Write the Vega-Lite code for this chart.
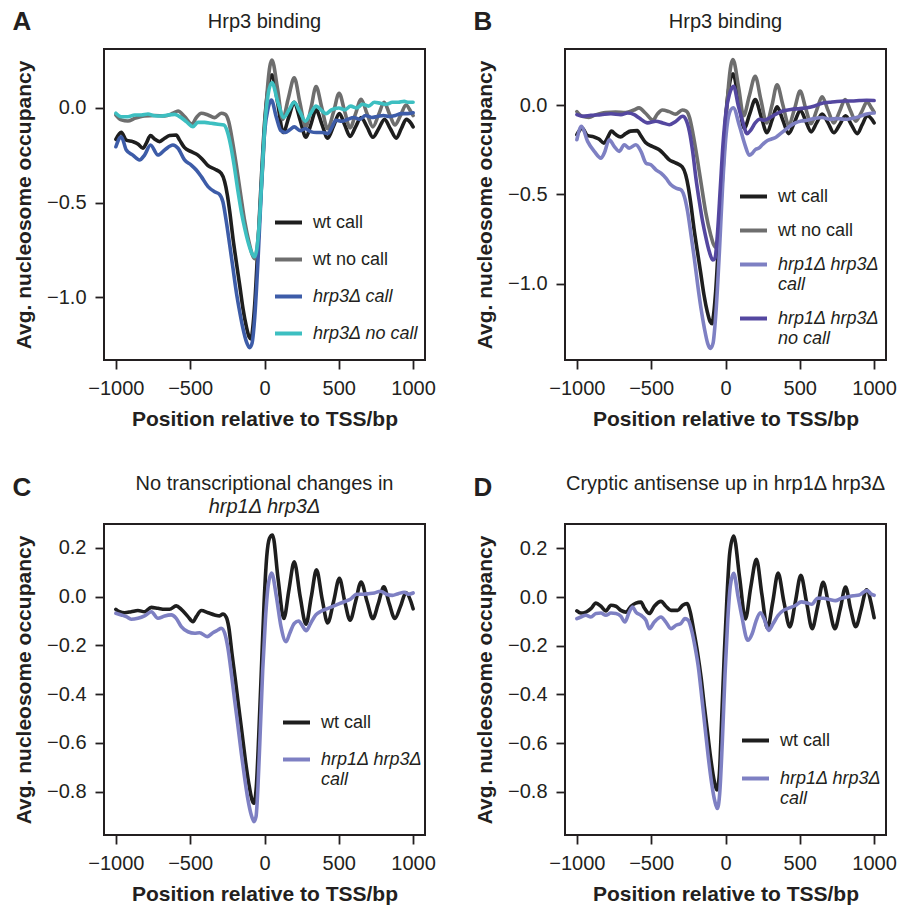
{
"$schema": "https://vega.github.io/schema/vega-lite/v6.json",
"background": "white",
"padding": {"left": 12, "top": 9, "right": 5, "bottom": 0},
"config": {
  "font": "Liberation Sans",
  "view": {"stroke": "#231f20", "strokeWidth": 2},
  "axis": {"domain": false, "grid": false, "tickColor": "#231f20", "tickWidth": 1.8, "tickSize": 9, "labelFont": "Liberation Sans", "labelFontSize": 20, "labelColor": "#231f20", "labelPadding": 9, "labelFlush": false, "labelOverlap": false, "titleFont": "Liberation Sans", "titleFontSize": 21, "titleFontWeight": "bold", "titleColor": "#231f20"},
  "axisX": {"titlePadding": 10},
  "axisY": {"titlePadding": 12},
  "title": {"font": "Liberation Sans", "fontSize": 20, "fontWeight": "normal", "color": "#231f20", "subtitleFont": "Liberation Sans", "subtitleFontSize": 20, "subtitleColor": "#231f20"},
  "legend": {"labelFont": "Liberation Sans", "labelFontSize": 18, "labelColor": "#231f20", "symbolType": "stroke", "symbolSize": 729, "symbolStrokeWidth": 4, "labelOffset": 9, "padding": 0, "rowPadding": 12}
},
"resolve": {"scale": {"color": "independent"}, "legend": {"color": "independent"}},
"datasets": {"nuc": [
{"g":"AB","s":"wt call","x":-1000,"y":-0.166},{"g":"AB","s":"wt call","x":-964,"y":-0.129},{"g":"AB","s":"wt call","x":-930,"y":-0.17},{"g":"AB","s":"wt call","x":-886,"y":-0.178},{"g":"AB","s":"wt call","x":-852,"y":-0.19},{"g":"AB","s":"wt call","x":-818,"y":-0.213},{"g":"AB","s":"wt call","x":-796,"y":-0.187},{"g":"AB","s":"wt call","x":-767,"y":-0.146},{"g":"AB","s":"wt call","x":-740,"y":-0.164},{"g":"AB","s":"wt call","x":-706,"y":-0.178},{"g":"AB","s":"wt call","x":-672,"y":-0.16},{"g":"AB","s":"wt call","x":-639,"y":-0.146},{"g":"AB","s":"wt call","x":-594,"y":-0.143},{"g":"AB","s":"wt call","x":-571,"y":-0.17},{"g":"AB","s":"wt call","x":-538,"y":-0.21},{"g":"AB","s":"wt call","x":-493,"y":-0.231},{"g":"AB","s":"wt call","x":-448,"y":-0.249},{"g":"AB","s":"wt call","x":-414,"y":-0.275},{"g":"AB","s":"wt call","x":-380,"y":-0.305},{"g":"AB","s":"wt call","x":-336,"y":-0.323},{"g":"AB","s":"wt call","x":-291,"y":-0.346},{"g":"AB","s":"wt call","x":-268,"y":-0.39},{"g":"AB","s":"wt call","x":-250,"y":-0.46},{"g":"AB","s":"wt call","x":-234,"y":-0.548},{"g":"AB","s":"wt call","x":-212,"y":-0.69},{"g":"AB","s":"wt call","x":-190,"y":-0.813},{"g":"AB","s":"wt call","x":-167,"y":-0.937},{"g":"AB","s":"wt call","x":-145,"y":-1.06},{"g":"AB","s":"wt call","x":-122,"y":-1.157},{"g":"AB","s":"wt call","x":-104,"y":-1.21},{"g":"AB","s":"wt call","x":-90,"y":-1.222},{"g":"AB","s":"wt call","x":-80,"y":-1.17},{"g":"AB","s":"wt call","x":-66,"y":-1.04},{"g":"AB","s":"wt call","x":-44,"y":-0.725},{"g":"AB","s":"wt call","x":-21,"y":-0.372},{"g":"AB","s":"wt call","x":1,"y":-0.072},{"g":"AB","s":"wt call","x":24,"y":0.104},{"g":"AB","s":"wt call","x":50,"y":0.175},{"g":"AB","s":"wt call","x":88,"y":0.03},{"g":"AB","s":"wt call","x":126,"y":-0.13},{"g":"AB","s":"wt call","x":163,"y":-0.05},{"g":"AB","s":"wt call","x":200,"y":0.03},{"g":"AB","s":"wt call","x":240,"y":-0.065},{"g":"AB","s":"wt call","x":279,"y":-0.155},{"g":"AB","s":"wt call","x":313,"y":-0.085},{"g":"AB","s":"wt call","x":347,"y":-0.01},{"g":"AB","s":"wt call","x":386,"y":-0.085},{"g":"AB","s":"wt call","x":425,"y":-0.16},{"g":"AB","s":"wt call","x":465,"y":-0.095},{"g":"AB","s":"wt call","x":504,"y":-0.03},{"g":"AB","s":"wt call","x":540,"y":-0.09},{"g":"AB","s":"wt call","x":576,"y":-0.15},{"g":"AB","s":"wt call","x":613,"y":-0.1},{"g":"AB","s":"wt call","x":650,"y":-0.05},{"g":"AB","s":"wt call","x":690,"y":-0.1},{"g":"AB","s":"wt call","x":729,"y":-0.155},{"g":"AB","s":"wt call","x":768,"y":-0.11},{"g":"AB","s":"wt call","x":808,"y":-0.06},{"g":"AB","s":"wt call","x":847,"y":-0.11},{"g":"AB","s":"wt call","x":887,"y":-0.16},{"g":"AB","s":"wt call","x":920,"y":-0.11},{"g":"AB","s":"wt call","x":954,"y":-0.06},{"g":"AB","s":"wt call","x":985,"y":-0.08},{"g":"AB","s":"wt call","x":1000,"y":-0.1},
{"g":"AB","s":"wt no call","x":-1000,"y":-0.037},{"g":"AB","s":"wt no call","x":-964,"y":-0.063},{"g":"AB","s":"wt no call","x":-919,"y":-0.069},{"g":"AB","s":"wt no call","x":-874,"y":-0.055},{"g":"AB","s":"wt no call","x":-807,"y":-0.042},{"g":"AB","s":"wt no call","x":-740,"y":-0.04},{"g":"AB","s":"wt no call","x":-672,"y":-0.042},{"g":"AB","s":"wt no call","x":-616,"y":-0.028},{"g":"AB","s":"wt no call","x":-582,"y":-0.016},{"g":"AB","s":"wt no call","x":-538,"y":-0.046},{"g":"AB","s":"wt no call","x":-488,"y":-0.085},{"g":"AB","s":"wt no call","x":-459,"y":-0.051},{"g":"AB","s":"wt no call","x":-425,"y":-0.028},{"g":"AB","s":"wt no call","x":-380,"y":-0.037},{"g":"AB","s":"wt no call","x":-336,"y":-0.051},{"g":"AB","s":"wt no call","x":-291,"y":-0.028},{"g":"AB","s":"wt no call","x":-264,"y":-0.034},{"g":"AB","s":"wt no call","x":-241,"y":-0.072},{"g":"AB","s":"wt no call","x":-219,"y":-0.16},{"g":"AB","s":"wt no call","x":-190,"y":-0.3},{"g":"AB","s":"wt no call","x":-160,"y":-0.46},{"g":"AB","s":"wt no call","x":-133,"y":-0.6},{"g":"AB","s":"wt no call","x":-100,"y":-0.725},{"g":"AB","s":"wt no call","x":-80,"y":-0.78},{"g":"AB","s":"wt no call","x":-64,"y":-0.797},{"g":"AB","s":"wt no call","x":-50,"y":-0.74},{"g":"AB","s":"wt no call","x":-39,"y":-0.65},{"g":"AB","s":"wt no call","x":-28,"y":-0.51},{"g":"AB","s":"wt no call","x":-17,"y":-0.37},{"g":"AB","s":"wt no call","x":-8,"y":-0.25},{"g":"AB","s":"wt no call","x":1,"y":-0.11},{"g":"AB","s":"wt no call","x":12,"y":0.02},{"g":"AB","s":"wt no call","x":24,"y":0.14},{"g":"AB","s":"wt no call","x":36,"y":0.22},{"g":"AB","s":"wt no call","x":50,"y":0.254},{"g":"AB","s":"wt no call","x":88,"y":0.1},{"g":"AB","s":"wt no call","x":122,"y":-0.06},{"g":"AB","s":"wt no call","x":160,"y":0.05},{"g":"AB","s":"wt no call","x":200,"y":0.16},{"g":"AB","s":"wt no call","x":238,"y":0.03},{"g":"AB","s":"wt no call","x":277,"y":-0.1},{"g":"AB","s":"wt no call","x":313,"y":0.0},{"g":"AB","s":"wt no call","x":347,"y":0.113},{"g":"AB","s":"wt no call","x":386,"y":0.0},{"g":"AB","s":"wt no call","x":425,"y":-0.11},{"g":"AB","s":"wt no call","x":465,"y":-0.02},{"g":"AB","s":"wt no call","x":502,"y":0.078},{"g":"AB","s":"wt no call","x":540,"y":-0.02},{"g":"AB","s":"wt no call","x":576,"y":-0.105},{"g":"AB","s":"wt no call","x":613,"y":-0.03},{"g":"AB","s":"wt no call","x":650,"y":0.046},{"g":"AB","s":"wt no call","x":690,"y":-0.03},{"g":"AB","s":"wt no call","x":729,"y":-0.1},{"g":"AB","s":"wt no call","x":768,"y":-0.035},{"g":"AB","s":"wt no call","x":805,"y":0.03},{"g":"AB","s":"wt no call","x":840,"y":-0.03},{"g":"AB","s":"wt no call","x":877,"y":-0.09},{"g":"AB","s":"wt no call","x":915,"y":-0.04},{"g":"AB","s":"wt no call","x":952,"y":0.016},{"g":"AB","s":"wt no call","x":985,"y":-0.02},{"g":"AB","s":"wt no call","x":1000,"y":-0.04},
{"g":"A","s":"hrp3Δ call","x":-1000,"y":-0.205},{"g":"A","s":"hrp3Δ call","x":-964,"y":-0.152},{"g":"A","s":"hrp3Δ call","x":-930,"y":-0.222},{"g":"A","s":"hrp3Δ call","x":-886,"y":-0.249},{"g":"A","s":"hrp3Δ call","x":-841,"y":-0.275},{"g":"A","s":"hrp3Δ call","x":-807,"y":-0.249},{"g":"A","s":"hrp3Δ call","x":-767,"y":-0.196},{"g":"A","s":"hrp3Δ call","x":-717,"y":-0.249},{"g":"A","s":"hrp3Δ call","x":-672,"y":-0.222},{"g":"A","s":"hrp3Δ call","x":-616,"y":-0.196},{"g":"A","s":"hrp3Δ call","x":-582,"y":-0.213},{"g":"A","s":"hrp3Δ call","x":-538,"y":-0.275},{"g":"A","s":"hrp3Δ call","x":-493,"y":-0.302},{"g":"A","s":"hrp3Δ call","x":-459,"y":-0.328},{"g":"A","s":"hrp3Δ call","x":-425,"y":-0.363},{"g":"A","s":"hrp3Δ call","x":-380,"y":-0.416},{"g":"A","s":"hrp3Δ call","x":-336,"y":-0.443},{"g":"A","s":"hrp3Δ call","x":-302,"y":-0.457},{"g":"A","s":"hrp3Δ call","x":-280,"y":-0.496},{"g":"A","s":"hrp3Δ call","x":-257,"y":-0.6},{"g":"A","s":"hrp3Δ call","x":-234,"y":-0.725},{"g":"A","s":"hrp3Δ call","x":-212,"y":-0.848},{"g":"A","s":"hrp3Δ call","x":-190,"y":-0.972},{"g":"A","s":"hrp3Δ call","x":-167,"y":-1.078},{"g":"A","s":"hrp3Δ call","x":-145,"y":-1.166},{"g":"A","s":"hrp3Δ call","x":-122,"y":-1.236},{"g":"A","s":"hrp3Δ call","x":-100,"y":-1.268},{"g":"A","s":"hrp3Δ call","x":-84,"y":-1.245},{"g":"A","s":"hrp3Δ call","x":-66,"y":-1.11},{"g":"A","s":"hrp3Δ call","x":-44,"y":-0.81},{"g":"A","s":"hrp3Δ call","x":-21,"y":-0.425},{"g":"A","s":"hrp3Δ call","x":1,"y":-0.125},{"g":"A","s":"hrp3Δ call","x":24,"y":-0.002},{"g":"A","s":"hrp3Δ call","x":46,"y":0.042},{"g":"A","s":"hrp3Δ call","x":80,"y":-0.05},{"g":"A","s":"hrp3Δ call","x":110,"y":-0.12},{"g":"A","s":"hrp3Δ call","x":140,"y":-0.13},{"g":"A","s":"hrp3Δ call","x":170,"y":-0.115},{"g":"A","s":"hrp3Δ call","x":200,"y":-0.1},{"g":"A","s":"hrp3Δ call","x":240,"y":-0.12},{"g":"A","s":"hrp3Δ call","x":275,"y":-0.11},{"g":"A","s":"hrp3Δ call","x":310,"y":-0.125},{"g":"A","s":"hrp3Δ call","x":350,"y":-0.13},{"g":"A","s":"hrp3Δ call","x":390,"y":-0.13},{"g":"A","s":"hrp3Δ call","x":425,"y":-0.135},{"g":"A","s":"hrp3Δ call","x":455,"y":-0.1},{"g":"A","s":"hrp3Δ call","x":480,"y":-0.065},{"g":"A","s":"hrp3Δ call","x":520,"y":-0.07},{"g":"A","s":"hrp3Δ call","x":560,"y":-0.06},{"g":"A","s":"hrp3Δ call","x":600,"y":-0.05},{"g":"A","s":"hrp3Δ call","x":640,"y":-0.06},{"g":"A","s":"hrp3Δ call","x":680,"y":-0.04},{"g":"A","s":"hrp3Δ call","x":720,"y":-0.05},{"g":"A","s":"hrp3Δ call","x":760,"y":-0.045},{"g":"A","s":"hrp3Δ call","x":800,"y":-0.04},{"g":"A","s":"hrp3Δ call","x":840,"y":-0.045},{"g":"A","s":"hrp3Δ call","x":880,"y":-0.04},{"g":"A","s":"hrp3Δ call","x":920,"y":-0.03},{"g":"A","s":"hrp3Δ call","x":960,"y":-0.03},{"g":"A","s":"hrp3Δ call","x":1000,"y":-0.025},
{"g":"A","s":"hrp3Δ no call","x":-1000,"y":-0.028},{"g":"A","s":"hrp3Δ no call","x":-964,"y":-0.046},{"g":"A","s":"hrp3Δ no call","x":-919,"y":-0.046},{"g":"A","s":"hrp3Δ no call","x":-874,"y":-0.037},{"g":"A","s":"hrp3Δ no call","x":-829,"y":-0.037},{"g":"A","s":"hrp3Δ no call","x":-784,"y":-0.032},{"g":"A","s":"hrp3Δ no call","x":-740,"y":-0.041},{"g":"A","s":"hrp3Δ no call","x":-695,"y":-0.042},{"g":"A","s":"hrp3Δ no call","x":-650,"y":-0.037},{"g":"A","s":"hrp3Δ no call","x":-605,"y":-0.034},{"g":"A","s":"hrp3Δ no call","x":-571,"y":-0.046},{"g":"A","s":"hrp3Δ no call","x":-526,"y":-0.072},{"g":"A","s":"hrp3Δ no call","x":-481,"y":-0.099},{"g":"A","s":"hrp3Δ no call","x":-448,"y":-0.076},{"g":"A","s":"hrp3Δ no call","x":-403,"y":-0.076},{"g":"A","s":"hrp3Δ no call","x":-358,"y":-0.081},{"g":"A","s":"hrp3Δ no call","x":-313,"y":-0.086},{"g":"A","s":"hrp3Δ no call","x":-273,"y":-0.09},{"g":"A","s":"hrp3Δ no call","x":-250,"y":-0.125},{"g":"A","s":"hrp3Δ no call","x":-228,"y":-0.196},{"g":"A","s":"hrp3Δ no call","x":-205,"y":-0.3},{"g":"A","s":"hrp3Δ no call","x":-178,"y":-0.443},{"g":"A","s":"hrp3Δ no call","x":-156,"y":-0.548},{"g":"A","s":"hrp3Δ no call","x":-133,"y":-0.637},{"g":"A","s":"hrp3Δ no call","x":-111,"y":-0.707},{"g":"A","s":"hrp3Δ no call","x":-84,"y":-0.77},{"g":"A","s":"hrp3Δ no call","x":-66,"y":-0.787},{"g":"A","s":"hrp3Δ no call","x":-48,"y":-0.725},{"g":"A","s":"hrp3Δ no call","x":-30,"y":-0.548},{"g":"A","s":"hrp3Δ no call","x":-12,"y":-0.28},{"g":"A","s":"hrp3Δ no call","x":6,"y":-0.055},{"g":"A","s":"hrp3Δ no call","x":24,"y":0.069},{"g":"A","s":"hrp3Δ no call","x":50,"y":0.135},{"g":"A","s":"hrp3Δ no call","x":90,"y":0.03},{"g":"A","s":"hrp3Δ no call","x":130,"y":-0.05},{"g":"A","s":"hrp3Δ no call","x":165,"y":-0.01},{"g":"A","s":"hrp3Δ no call","x":200,"y":0.03},{"g":"A","s":"hrp3Δ no call","x":238,"y":-0.02},{"g":"A","s":"hrp3Δ no call","x":275,"y":-0.07},{"g":"A","s":"hrp3Δ no call","x":310,"y":-0.03},{"g":"A","s":"hrp3Δ no call","x":347,"y":0.01},{"g":"A","s":"hrp3Δ no call","x":380,"y":-0.01},{"g":"A","s":"hrp3Δ no call","x":414,"y":-0.03},{"g":"A","s":"hrp3Δ no call","x":450,"y":-0.01},{"g":"A","s":"hrp3Δ no call","x":500,"y":0.0},{"g":"A","s":"hrp3Δ no call","x":540,"y":-0.01},{"g":"A","s":"hrp3Δ no call","x":580,"y":0.01},{"g":"A","s":"hrp3Δ no call","x":620,"y":0.0},{"g":"A","s":"hrp3Δ no call","x":660,"y":0.02},{"g":"A","s":"hrp3Δ no call","x":700,"y":0.01},{"g":"A","s":"hrp3Δ no call","x":740,"y":0.03},{"g":"A","s":"hrp3Δ no call","x":780,"y":0.025},{"g":"A","s":"hrp3Δ no call","x":820,"y":0.02},{"g":"A","s":"hrp3Δ no call","x":860,"y":0.03},{"g":"A","s":"hrp3Δ no call","x":900,"y":0.03},{"g":"A","s":"hrp3Δ no call","x":940,"y":0.035},{"g":"A","s":"hrp3Δ no call","x":970,"y":0.03},{"g":"A","s":"hrp3Δ no call","x":1000,"y":0.03},
{"g":"B","s":"hrp1Δ hrp3Δ call","x":-1000,"y":-0.194},{"g":"B","s":"hrp1Δ hrp3Δ call","x":-969,"y":-0.119},{"g":"B","s":"hrp1Δ hrp3Δ call","x":-928,"y":-0.203},{"g":"B","s":"hrp1Δ hrp3Δ call","x":-883,"y":-0.259},{"g":"B","s":"hrp1Δ hrp3Δ call","x":-838,"y":-0.297},{"g":"B","s":"hrp1Δ hrp3Δ call","x":-816,"y":-0.269},{"g":"B","s":"hrp1Δ hrp3Δ call","x":-782,"y":-0.194},{"g":"B","s":"hrp1Δ hrp3Δ call","x":-749,"y":-0.231},{"g":"B","s":"hrp1Δ hrp3Δ call","x":-715,"y":-0.259},{"g":"B","s":"hrp1Δ hrp3Δ call","x":-681,"y":-0.222},{"g":"B","s":"hrp1Δ hrp3Δ call","x":-648,"y":-0.241},{"g":"B","s":"hrp1Δ hrp3Δ call","x":-603,"y":-0.222},{"g":"B","s":"hrp1Δ hrp3Δ call","x":-569,"y":-0.259},{"g":"B","s":"hrp1Δ hrp3Δ call","x":-535,"y":-0.325},{"g":"B","s":"hrp1Δ hrp3Δ call","x":-502,"y":-0.334},{"g":"B","s":"hrp1Δ hrp3Δ call","x":-468,"y":-0.362},{"g":"B","s":"hrp1Δ hrp3Δ call","x":-434,"y":-0.381},{"g":"B","s":"hrp1Δ hrp3Δ call","x":-401,"y":-0.409},{"g":"B","s":"hrp1Δ hrp3Δ call","x":-367,"y":-0.446},{"g":"B","s":"hrp1Δ hrp3Δ call","x":-333,"y":-0.465},{"g":"B","s":"hrp1Δ hrp3Δ call","x":-300,"y":-0.474},{"g":"B","s":"hrp1Δ hrp3Δ call","x":-277,"y":-0.511},{"g":"B","s":"hrp1Δ hrp3Δ call","x":-255,"y":-0.595},{"g":"B","s":"hrp1Δ hrp3Δ call","x":-232,"y":-0.726},{"g":"B","s":"hrp1Δ hrp3Δ call","x":-210,"y":-0.856},{"g":"B","s":"hrp1Δ hrp3Δ call","x":-187,"y":-1.006},{"g":"B","s":"hrp1Δ hrp3Δ call","x":-165,"y":-1.136},{"g":"B","s":"hrp1Δ hrp3Δ call","x":-142,"y":-1.248},{"g":"B","s":"hrp1Δ hrp3Δ call","x":-120,"y":-1.332},{"g":"B","s":"hrp1Δ hrp3Δ call","x":-102,"y":-1.36},{"g":"B","s":"hrp1Δ hrp3Δ call","x":-84,"y":-1.332},{"g":"B","s":"hrp1Δ hrp3Δ call","x":-64,"y":-1.155},{"g":"B","s":"hrp1Δ hrp3Δ call","x":-41,"y":-0.819},{"g":"B","s":"hrp1Δ hrp3Δ call","x":-19,"y":-0.446},{"g":"B","s":"hrp1Δ hrp3Δ call","x":4,"y":-0.166},{"g":"B","s":"hrp1Δ hrp3Δ call","x":26,"y":-0.045},{"g":"B","s":"hrp1Δ hrp3Δ call","x":52,"y":-0.015},{"g":"B","s":"hrp1Δ hrp3Δ call","x":95,"y":-0.12},{"g":"B","s":"hrp1Δ hrp3Δ call","x":130,"y":-0.22},{"g":"B","s":"hrp1Δ hrp3Δ call","x":160,"y":-0.28},{"g":"B","s":"hrp1Δ hrp3Δ call","x":180,"y":-0.27},{"g":"B","s":"hrp1Δ hrp3Δ call","x":200,"y":-0.25},{"g":"B","s":"hrp1Δ hrp3Δ call","x":225,"y":-0.24},{"g":"B","s":"hrp1Δ hrp3Δ call","x":250,"y":-0.22},{"g":"B","s":"hrp1Δ hrp3Δ call","x":280,"y":-0.2},{"g":"B","s":"hrp1Δ hrp3Δ call","x":310,"y":-0.19},{"g":"B","s":"hrp1Δ hrp3Δ call","x":340,"y":-0.18},{"g":"B","s":"hrp1Δ hrp3Δ call","x":370,"y":-0.16},{"g":"B","s":"hrp1Δ hrp3Δ call","x":400,"y":-0.14},{"g":"B","s":"hrp1Δ hrp3Δ call","x":430,"y":-0.12},{"g":"B","s":"hrp1Δ hrp3Δ call","x":470,"y":-0.1},{"g":"B","s":"hrp1Δ hrp3Δ call","x":510,"y":-0.09},{"g":"B","s":"hrp1Δ hrp3Δ call","x":550,"y":-0.085},{"g":"B","s":"hrp1Δ hrp3Δ call","x":600,"y":-0.075},{"g":"B","s":"hrp1Δ hrp3Δ call","x":650,"y":-0.07},{"g":"B","s":"hrp1Δ hrp3Δ call","x":700,"y":-0.08},{"g":"B","s":"hrp1Δ hrp3Δ call","x":750,"y":-0.075},{"g":"B","s":"hrp1Δ hrp3Δ call","x":800,"y":-0.08},{"g":"B","s":"hrp1Δ hrp3Δ call","x":850,"y":-0.075},{"g":"B","s":"hrp1Δ hrp3Δ call","x":900,"y":-0.065},{"g":"B","s":"hrp1Δ hrp3Δ call","x":950,"y":-0.05},{"g":"B","s":"hrp1Δ hrp3Δ call","x":1000,"y":-0.045},
{"g":"B","s":"hrp1Δ hrp3Δ no call","x":-1000,"y":-0.054},{"g":"B","s":"hrp1Δ hrp3Δ no call","x":-962,"y":-0.063},{"g":"B","s":"hrp1Δ hrp3Δ no call","x":-906,"y":-0.058},{"g":"B","s":"hrp1Δ hrp3Δ no call","x":-838,"y":-0.054},{"g":"B","s":"hrp1Δ hrp3Δ no call","x":-771,"y":-0.049},{"g":"B","s":"hrp1Δ hrp3Δ no call","x":-704,"y":-0.054},{"g":"B","s":"hrp1Δ hrp3Δ no call","x":-659,"y":-0.045},{"g":"B","s":"hrp1Δ hrp3Δ no call","x":-614,"y":-0.054},{"g":"B","s":"hrp1Δ hrp3Δ no call","x":-580,"y":-0.073},{"g":"B","s":"hrp1Δ hrp3Δ no call","x":-524,"y":-0.1},{"g":"B","s":"hrp1Δ hrp3Δ no call","x":-468,"y":-0.091},{"g":"B","s":"hrp1Δ hrp3Δ no call","x":-423,"y":-0.1},{"g":"B","s":"hrp1Δ hrp3Δ no call","x":-378,"y":-0.11},{"g":"B","s":"hrp1Δ hrp3Δ no call","x":-333,"y":-0.091},{"g":"B","s":"hrp1Δ hrp3Δ no call","x":-288,"y":-0.063},{"g":"B","s":"hrp1Δ hrp3Δ no call","x":-266,"y":-0.082},{"g":"B","s":"hrp1Δ hrp3Δ no call","x":-243,"y":-0.147},{"g":"B","s":"hrp1Δ hrp3Δ no call","x":-221,"y":-0.259},{"g":"B","s":"hrp1Δ hrp3Δ no call","x":-199,"y":-0.409},{"g":"B","s":"hrp1Δ hrp3Δ no call","x":-176,"y":-0.539},{"g":"B","s":"hrp1Δ hrp3Δ no call","x":-154,"y":-0.651},{"g":"B","s":"hrp1Δ hrp3Δ no call","x":-131,"y":-0.744},{"g":"B","s":"hrp1Δ hrp3Δ no call","x":-109,"y":-0.819},{"g":"B","s":"hrp1Δ hrp3Δ no call","x":-86,"y":-0.866},{"g":"B","s":"hrp1Δ hrp3Δ no call","x":-71,"y":-0.856},{"g":"B","s":"hrp1Δ hrp3Δ no call","x":-53,"y":-0.707},{"g":"B","s":"hrp1Δ hrp3Δ no call","x":-35,"y":-0.465},{"g":"B","s":"hrp1Δ hrp3Δ no call","x":-17,"y":-0.222},{"g":"B","s":"hrp1Δ hrp3Δ no call","x":4,"y":-0.035},{"g":"B","s":"hrp1Δ hrp3Δ no call","x":26,"y":0.058},{"g":"B","s":"hrp1Δ hrp3Δ no call","x":55,"y":0.105},{"g":"B","s":"hrp1Δ hrp3Δ no call","x":85,"y":0.0},{"g":"B","s":"hrp1Δ hrp3Δ no call","x":115,"y":-0.09},{"g":"B","s":"hrp1Δ hrp3Δ no call","x":145,"y":-0.16},{"g":"B","s":"hrp1Δ hrp3Δ no call","x":170,"y":-0.14},{"g":"B","s":"hrp1Δ hrp3Δ no call","x":200,"y":-0.1},{"g":"B","s":"hrp1Δ hrp3Δ no call","x":230,"y":-0.08},{"g":"B","s":"hrp1Δ hrp3Δ no call","x":260,"y":-0.085},{"g":"B","s":"hrp1Δ hrp3Δ no call","x":290,"y":-0.075},{"g":"B","s":"hrp1Δ hrp3Δ no call","x":330,"y":-0.055},{"g":"B","s":"hrp1Δ hrp3Δ no call","x":380,"y":-0.035},{"g":"B","s":"hrp1Δ hrp3Δ no call","x":440,"y":-0.025},{"g":"B","s":"hrp1Δ hrp3Δ no call","x":500,"y":-0.02},{"g":"B","s":"hrp1Δ hrp3Δ no call","x":550,"y":-0.015},{"g":"B","s":"hrp1Δ hrp3Δ no call","x":600,"y":-0.005},{"g":"B","s":"hrp1Δ hrp3Δ no call","x":650,"y":0.01},{"g":"B","s":"hrp1Δ hrp3Δ no call","x":700,"y":0.015},{"g":"B","s":"hrp1Δ hrp3Δ no call","x":750,"y":0.02},{"g":"B","s":"hrp1Δ hrp3Δ no call","x":800,"y":0.022},{"g":"B","s":"hrp1Δ hrp3Δ no call","x":850,"y":0.022},{"g":"B","s":"hrp1Δ hrp3Δ no call","x":900,"y":0.025},{"g":"B","s":"hrp1Δ hrp3Δ no call","x":950,"y":0.027},{"g":"B","s":"hrp1Δ hrp3Δ no call","x":1000,"y":0.025},
{"g":"C","s":"wt call","x":-1000,"y":-0.052},{"g":"C","s":"wt call","x":-975,"y":-0.062},{"g":"C","s":"wt call","x":-942,"y":-0.066},{"g":"C","s":"wt call","x":-897,"y":-0.062},{"g":"C","s":"wt call","x":-852,"y":-0.057},{"g":"C","s":"wt call","x":-807,"y":-0.062},{"g":"C","s":"wt call","x":-762,"y":-0.044},{"g":"C","s":"wt call","x":-717,"y":-0.048},{"g":"C","s":"wt call","x":-672,"y":-0.052},{"g":"C","s":"wt call","x":-639,"y":-0.052},{"g":"C","s":"wt call","x":-594,"y":-0.038},{"g":"C","s":"wt call","x":-560,"y":-0.052},{"g":"C","s":"wt call","x":-515,"y":-0.082},{"g":"C","s":"wt call","x":-481,"y":-0.103},{"g":"C","s":"wt call","x":-459,"y":-0.082},{"g":"C","s":"wt call","x":-425,"y":-0.057},{"g":"C","s":"wt call","x":-380,"y":-0.066},{"g":"C","s":"wt call","x":-336,"y":-0.075},{"g":"C","s":"wt call","x":-302,"y":-0.079},{"g":"C","s":"wt call","x":-280,"y":-0.071},{"g":"C","s":"wt call","x":-257,"y":-0.085},{"g":"C","s":"wt call","x":-241,"y":-0.123},{"g":"C","s":"wt call","x":-219,"y":-0.233},{"g":"C","s":"wt call","x":-196,"y":-0.342},{"g":"C","s":"wt call","x":-174,"y":-0.451},{"g":"C","s":"wt call","x":-151,"y":-0.561},{"g":"C","s":"wt call","x":-129,"y":-0.67},{"g":"C","s":"wt call","x":-106,"y":-0.766},{"g":"C","s":"wt call","x":-84,"y":-0.834},{"g":"C","s":"wt call","x":-71,"y":-0.848},{"g":"C","s":"wt call","x":-55,"y":-0.78},{"g":"C","s":"wt call","x":-39,"y":-0.575},{"g":"C","s":"wt call","x":-21,"y":-0.301},{"g":"C","s":"wt call","x":-3,"y":-0.027},{"g":"C","s":"wt call","x":15,"y":0.164},{"g":"C","s":"wt call","x":33,"y":0.239},{"g":"C","s":"wt call","x":54,"y":0.253},{"g":"C","s":"wt call","x":92,"y":0.07},{"g":"C","s":"wt call","x":130,"y":-0.09},{"g":"C","s":"wt call","x":165,"y":0.03},{"g":"C","s":"wt call","x":200,"y":0.143},{"g":"C","s":"wt call","x":240,"y":0.0},{"g":"C","s":"wt call","x":279,"y":-0.113},{"g":"C","s":"wt call","x":315,"y":0.0},{"g":"C","s":"wt call","x":350,"y":0.11},{"g":"C","s":"wt call","x":388,"y":-0.01},{"g":"C","s":"wt call","x":425,"y":-0.108},{"g":"C","s":"wt call","x":465,"y":-0.02},{"g":"C","s":"wt call","x":504,"y":0.075},{"g":"C","s":"wt call","x":540,"y":-0.02},{"g":"C","s":"wt call","x":576,"y":-0.097},{"g":"C","s":"wt call","x":613,"y":-0.02},{"g":"C","s":"wt call","x":650,"y":0.06},{"g":"C","s":"wt call","x":690,"y":-0.02},{"g":"C","s":"wt call","x":729,"y":-0.09},{"g":"C","s":"wt call","x":765,"y":-0.03},{"g":"C","s":"wt call","x":803,"y":0.04},{"g":"C","s":"wt call","x":840,"y":-0.03},{"g":"C","s":"wt call","x":877,"y":-0.09},{"g":"C","s":"wt call","x":915,"y":-0.04},{"g":"C","s":"wt call","x":952,"y":0.017},{"g":"C","s":"wt call","x":985,"y":-0.02},{"g":"C","s":"wt call","x":1000,"y":-0.05},
{"g":"C","s":"hrp1Δ hrp3Δ call","x":-1000,"y":-0.068},{"g":"C","s":"hrp1Δ hrp3Δ call","x":-964,"y":-0.075},{"g":"C","s":"hrp1Δ hrp3Δ call","x":-930,"y":-0.082},{"g":"C","s":"hrp1Δ hrp3Δ call","x":-897,"y":-0.093},{"g":"C","s":"hrp1Δ hrp3Δ call","x":-852,"y":-0.089},{"g":"C","s":"hrp1Δ hrp3Δ call","x":-807,"y":-0.079},{"g":"C","s":"hrp1Δ hrp3Δ call","x":-762,"y":-0.062},{"g":"C","s":"hrp1Δ hrp3Δ call","x":-717,"y":-0.089},{"g":"C","s":"hrp1Δ hrp3Δ call","x":-672,"y":-0.079},{"g":"C","s":"hrp1Δ hrp3Δ call","x":-627,"y":-0.075},{"g":"C","s":"hrp1Δ hrp3Δ call","x":-594,"y":-0.089},{"g":"C","s":"hrp1Δ hrp3Δ call","x":-560,"y":-0.123},{"g":"C","s":"hrp1Δ hrp3Δ call","x":-515,"y":-0.144},{"g":"C","s":"hrp1Δ hrp3Δ call","x":-470,"y":-0.15},{"g":"C","s":"hrp1Δ hrp3Δ call","x":-437,"y":-0.148},{"g":"C","s":"hrp1Δ hrp3Δ call","x":-385,"y":-0.164},{"g":"C","s":"hrp1Δ hrp3Δ call","x":-347,"y":-0.148},{"g":"C","s":"hrp1Δ hrp3Δ call","x":-313,"y":-0.137},{"g":"C","s":"hrp1Δ hrp3Δ call","x":-291,"y":-0.13},{"g":"C","s":"hrp1Δ hrp3Δ call","x":-268,"y":-0.15},{"g":"C","s":"hrp1Δ hrp3Δ call","x":-246,"y":-0.212},{"g":"C","s":"hrp1Δ hrp3Δ call","x":-223,"y":-0.315},{"g":"C","s":"hrp1Δ hrp3Δ call","x":-201,"y":-0.424},{"g":"C","s":"hrp1Δ hrp3Δ call","x":-178,"y":-0.534},{"g":"C","s":"hrp1Δ hrp3Δ call","x":-156,"y":-0.643},{"g":"C","s":"hrp1Δ hrp3Δ call","x":-133,"y":-0.746},{"g":"C","s":"hrp1Δ hrp3Δ call","x":-111,"y":-0.834},{"g":"C","s":"hrp1Δ hrp3Δ call","x":-89,"y":-0.896},{"g":"C","s":"hrp1Δ hrp3Δ call","x":-71,"y":-0.923},{"g":"C","s":"hrp1Δ hrp3Δ call","x":-57,"y":-0.903},{"g":"C","s":"hrp1Δ hrp3Δ call","x":-44,"y":-0.78},{"g":"C","s":"hrp1Δ hrp3Δ call","x":-30,"y":-0.575},{"g":"C","s":"hrp1Δ hrp3Δ call","x":-12,"y":-0.301},{"g":"C","s":"hrp1Δ hrp3Δ call","x":6,"y":-0.096},{"g":"C","s":"hrp1Δ hrp3Δ call","x":24,"y":0.041},{"g":"C","s":"hrp1Δ hrp3Δ call","x":48,"y":0.097},{"g":"C","s":"hrp1Δ hrp3Δ call","x":80,"y":0.0},{"g":"C","s":"hrp1Δ hrp3Δ call","x":110,"y":-0.12},{"g":"C","s":"hrp1Δ hrp3Δ call","x":145,"y":-0.185},{"g":"C","s":"hrp1Δ hrp3Δ call","x":170,"y":-0.15},{"g":"C","s":"hrp1Δ hrp3Δ call","x":200,"y":-0.11},{"g":"C","s":"hrp1Δ hrp3Δ call","x":230,"y":-0.1},{"g":"C","s":"hrp1Δ hrp3Δ call","x":255,"y":-0.12},{"g":"C","s":"hrp1Δ hrp3Δ call","x":280,"y":-0.14},{"g":"C","s":"hrp1Δ hrp3Δ call","x":310,"y":-0.11},{"g":"C","s":"hrp1Δ hrp3Δ call","x":345,"y":-0.075},{"g":"C","s":"hrp1Δ hrp3Δ call","x":380,"y":-0.06},{"g":"C","s":"hrp1Δ hrp3Δ call","x":420,"y":-0.05},{"g":"C","s":"hrp1Δ hrp3Δ call","x":460,"y":-0.04},{"g":"C","s":"hrp1Δ hrp3Δ call","x":500,"y":-0.03},{"g":"C","s":"hrp1Δ hrp3Δ call","x":540,"y":-0.02},{"g":"C","s":"hrp1Δ hrp3Δ call","x":580,"y":-0.01},{"g":"C","s":"hrp1Δ hrp3Δ call","x":620,"y":0.01},{"g":"C","s":"hrp1Δ hrp3Δ call","x":660,"y":0.01},{"g":"C","s":"hrp1Δ hrp3Δ call","x":700,"y":0.012},{"g":"C","s":"hrp1Δ hrp3Δ call","x":740,"y":0.015},{"g":"C","s":"hrp1Δ hrp3Δ call","x":780,"y":0.022},{"g":"C","s":"hrp1Δ hrp3Δ call","x":820,"y":0.01},{"g":"C","s":"hrp1Δ hrp3Δ call","x":860,"y":0.005},{"g":"C","s":"hrp1Δ hrp3Δ call","x":900,"y":0.012},{"g":"C","s":"hrp1Δ hrp3Δ call","x":940,"y":0.018},{"g":"C","s":"hrp1Δ hrp3Δ call","x":970,"y":0.01},{"g":"C","s":"hrp1Δ hrp3Δ call","x":1000,"y":0.015},
{"g":"D","s":"wt call","x":-1000,"y":-0.057},{"g":"D","s":"wt call","x":-973,"y":-0.066},{"g":"D","s":"wt call","x":-939,"y":-0.062},{"g":"D","s":"wt call","x":-906,"y":-0.048},{"g":"D","s":"wt call","x":-872,"y":-0.025},{"g":"D","s":"wt call","x":-838,"y":-0.038},{"g":"D","s":"wt call","x":-805,"y":-0.057},{"g":"D","s":"wt call","x":-771,"y":-0.034},{"g":"D","s":"wt call","x":-737,"y":-0.038},{"g":"D","s":"wt call","x":-704,"y":-0.055},{"g":"D","s":"wt call","x":-670,"y":-0.062},{"g":"D","s":"wt call","x":-636,"y":-0.038},{"g":"D","s":"wt call","x":-603,"y":-0.025},{"g":"D","s":"wt call","x":-569,"y":-0.021},{"g":"D","s":"wt call","x":-547,"y":-0.044},{"g":"D","s":"wt call","x":-513,"y":-0.068},{"g":"D","s":"wt call","x":-479,"y":-0.038},{"g":"D","s":"wt call","x":-434,"y":-0.018},{"g":"D","s":"wt call","x":-401,"y":-0.038},{"g":"D","s":"wt call","x":-367,"y":-0.055},{"g":"D","s":"wt call","x":-322,"y":-0.055},{"g":"D","s":"wt call","x":-288,"y":-0.034},{"g":"D","s":"wt call","x":-259,"y":-0.027},{"g":"D","s":"wt call","x":-237,"y":-0.062},{"g":"D","s":"wt call","x":-214,"y":-0.137},{"g":"D","s":"wt call","x":-187,"y":-0.233},{"g":"D","s":"wt call","x":-165,"y":-0.328},{"g":"D","s":"wt call","x":-142,"y":-0.451},{"g":"D","s":"wt call","x":-120,"y":-0.561},{"g":"D","s":"wt call","x":-98,"y":-0.67},{"g":"D","s":"wt call","x":-75,"y":-0.759},{"g":"D","s":"wt call","x":-57,"y":-0.793},{"g":"D","s":"wt call","x":-41,"y":-0.725},{"g":"D","s":"wt call","x":-26,"y":-0.506},{"g":"D","s":"wt call","x":-8,"y":-0.233},{"g":"D","s":"wt call","x":10,"y":0.0},{"g":"D","s":"wt call","x":28,"y":0.178},{"g":"D","s":"wt call","x":55,"y":0.25},{"g":"D","s":"wt call","x":95,"y":0.08},{"g":"D","s":"wt call","x":134,"y":-0.09},{"g":"D","s":"wt call","x":170,"y":0.04},{"g":"D","s":"wt call","x":208,"y":0.155},{"g":"D","s":"wt call","x":245,"y":0.01},{"g":"D","s":"wt call","x":282,"y":-0.128},{"g":"D","s":"wt call","x":318,"y":-0.02},{"g":"D","s":"wt call","x":354,"y":0.098},{"g":"D","s":"wt call","x":393,"y":-0.02},{"g":"D","s":"wt call","x":433,"y":-0.123},{"g":"D","s":"wt call","x":470,"y":-0.02},{"g":"D","s":"wt call","x":507,"y":0.089},{"g":"D","s":"wt call","x":545,"y":-0.02},{"g":"D","s":"wt call","x":583,"y":-0.13},{"g":"D","s":"wt call","x":620,"y":-0.04},{"g":"D","s":"wt call","x":657,"y":0.06},{"g":"D","s":"wt call","x":697,"y":-0.04},{"g":"D","s":"wt call","x":736,"y":-0.13},{"g":"D","s":"wt call","x":772,"y":-0.05},{"g":"D","s":"wt call","x":808,"y":0.041},{"g":"D","s":"wt call","x":842,"y":-0.05},{"g":"D","s":"wt call","x":877,"y":-0.122},{"g":"D","s":"wt call","x":913,"y":-0.05},{"g":"D","s":"wt call","x":949,"y":0.03},{"g":"D","s":"wt call","x":985,"y":-0.04},{"g":"D","s":"wt call","x":1000,"y":-0.085},
{"g":"D","s":"hrp1Δ hrp3Δ call","x":-1000,"y":-0.089},{"g":"D","s":"hrp1Δ hrp3Δ call","x":-973,"y":-0.082},{"g":"D","s":"hrp1Δ hrp3Δ call","x":-939,"y":-0.075},{"g":"D","s":"hrp1Δ hrp3Δ call","x":-906,"y":-0.082},{"g":"D","s":"hrp1Δ hrp3Δ call","x":-872,"y":-0.068},{"g":"D","s":"hrp1Δ hrp3Δ call","x":-838,"y":-0.066},{"g":"D","s":"hrp1Δ hrp3Δ call","x":-805,"y":-0.075},{"g":"D","s":"hrp1Δ hrp3Δ call","x":-771,"y":-0.066},{"g":"D","s":"hrp1Δ hrp3Δ call","x":-737,"y":-0.068},{"g":"D","s":"hrp1Δ hrp3Δ call","x":-704,"y":-0.079},{"g":"D","s":"hrp1Δ hrp3Δ call","x":-677,"y":-0.103},{"g":"D","s":"hrp1Δ hrp3Δ call","x":-648,"y":-0.062},{"g":"D","s":"hrp1Δ hrp3Δ call","x":-625,"y":-0.041},{"g":"D","s":"hrp1Δ hrp3Δ call","x":-603,"y":-0.062},{"g":"D","s":"hrp1Δ hrp3Δ call","x":-569,"y":-0.075},{"g":"D","s":"hrp1Δ hrp3Δ call","x":-535,"y":-0.096},{"g":"D","s":"hrp1Δ hrp3Δ call","x":-513,"y":-0.13},{"g":"D","s":"hrp1Δ hrp3Δ call","x":-479,"y":-0.103},{"g":"D","s":"hrp1Δ hrp3Δ call","x":-434,"y":-0.082},{"g":"D","s":"hrp1Δ hrp3Δ call","x":-401,"y":-0.103},{"g":"D","s":"hrp1Δ hrp3Δ call","x":-367,"y":-0.13},{"g":"D","s":"hrp1Δ hrp3Δ call","x":-333,"y":-0.116},{"g":"D","s":"hrp1Δ hrp3Δ call","x":-300,"y":-0.109},{"g":"D","s":"hrp1Δ hrp3Δ call","x":-273,"y":-0.089},{"g":"D","s":"hrp1Δ hrp3Δ call","x":-250,"y":-0.096},{"g":"D","s":"hrp1Δ hrp3Δ call","x":-228,"y":-0.137},{"g":"D","s":"hrp1Δ hrp3Δ call","x":-205,"y":-0.205},{"g":"D","s":"hrp1Δ hrp3Δ call","x":-183,"y":-0.287},{"g":"D","s":"hrp1Δ hrp3Δ call","x":-160,"y":-0.41},{"g":"D","s":"hrp1Δ hrp3Δ call","x":-138,"y":-0.534},{"g":"D","s":"hrp1Δ hrp3Δ call","x":-116,"y":-0.657},{"g":"D","s":"hrp1Δ hrp3Δ call","x":-93,"y":-0.766},{"g":"D","s":"hrp1Δ hrp3Δ call","x":-71,"y":-0.841},{"g":"D","s":"hrp1Δ hrp3Δ call","x":-55,"y":-0.869},{"g":"D","s":"hrp1Δ hrp3Δ call","x":-39,"y":-0.807},{"g":"D","s":"hrp1Δ hrp3Δ call","x":-21,"y":-0.588},{"g":"D","s":"hrp1Δ hrp3Δ call","x":-3,"y":-0.315},{"g":"D","s":"hrp1Δ hrp3Δ call","x":15,"y":-0.096},{"g":"D","s":"hrp1Δ hrp3Δ call","x":33,"y":0.048},{"g":"D","s":"hrp1Δ hrp3Δ call","x":55,"y":0.097},{"g":"D","s":"hrp1Δ hrp3Δ call","x":85,"y":0.0},{"g":"D","s":"hrp1Δ hrp3Δ call","x":110,"y":-0.08},{"g":"D","s":"hrp1Δ hrp3Δ call","x":150,"y":-0.178},{"g":"D","s":"hrp1Δ hrp3Δ call","x":180,"y":-0.15},{"g":"D","s":"hrp1Δ hrp3Δ call","x":205,"y":-0.1},{"g":"D","s":"hrp1Δ hrp3Δ call","x":235,"y":-0.065},{"g":"D","s":"hrp1Δ hrp3Δ call","x":260,"y":-0.09},{"g":"D","s":"hrp1Δ hrp3Δ call","x":290,"y":-0.137},{"g":"D","s":"hrp1Δ hrp3Δ call","x":320,"y":-0.11},{"g":"D","s":"hrp1Δ hrp3Δ call","x":355,"y":-0.075},{"g":"D","s":"hrp1Δ hrp3Δ call","x":390,"y":-0.055},{"g":"D","s":"hrp1Δ hrp3Δ call","x":430,"y":-0.045},{"g":"D","s":"hrp1Δ hrp3Δ call","x":470,"y":-0.035},{"g":"D","s":"hrp1Δ hrp3Δ call","x":510,"y":-0.02},{"g":"D","s":"hrp1Δ hrp3Δ call","x":550,"y":-0.025},{"g":"D","s":"hrp1Δ hrp3Δ call","x":580,"y":-0.03},{"g":"D","s":"hrp1Δ hrp3Δ call","x":620,"y":-0.005},{"g":"D","s":"hrp1Δ hrp3Δ call","x":660,"y":-0.005},{"g":"D","s":"hrp1Δ hrp3Δ call","x":700,"y":-0.01},{"g":"D","s":"hrp1Δ hrp3Δ call","x":740,"y":-0.015},{"g":"D","s":"hrp1Δ hrp3Δ call","x":780,"y":-0.005},{"g":"D","s":"hrp1Δ hrp3Δ call","x":820,"y":0.0},{"g":"D","s":"hrp1Δ hrp3Δ call","x":860,"y":0.005},{"g":"D","s":"hrp1Δ hrp3Δ call","x":900,"y":0.008},{"g":"D","s":"hrp1Δ hrp3Δ call","x":930,"y":0.02},{"g":"D","s":"hrp1Δ hrp3Δ call","x":955,"y":0.027},{"g":"D","s":"hrp1Δ hrp3Δ call","x":980,"y":0.012},{"g":"D","s":"hrp1Δ hrp3Δ call","x":1000,"y":0.007}
]},
"columns": 2,
"spacing": {"row": 43, "column": 36},
"concat": [
 {"title": {"text": "A", "anchor": "start", "frame": "bounds", "fontSize": 26, "fontWeight": "bold", "baseline": "alphabetic", "offset": -45},
  "resolve": {"scale": {"color": "independent"}, "legend": {"color": "independent"}},
  "vconcat": [{
   "width": 321, "height": 311,
   "title": {"text": "Hrp3 binding", "anchor": "middle", "frame": "group", "offset": 17},
   "data": {"name": "nuc"},
   "transform": [{"filter": {"field": "g", "oneOf": ["AB", "A"]}}],
   "mark": {"type": "line", "strokeWidth": 3.6, "interpolate": "monotone", "strokeCap": "round", "strokeJoin": "round"},
   "encoding": {
     "x": {"field": "x", "type": "quantitative", "scale": {"domain": [-1080, 1080], "nice": false, "zero": false}, "axis": {"values": [-1000, -500, 0, 500, 1000], "format": "d", "title": "Position relative to TSS/bp"}},
     "y": {"field": "y", "type": "quantitative", "scale": {"domain": [-1.333, 0.312], "nice": false, "zero": false}, "axis": {"values": [-1, -0.5, 0], "format": ".1f", "title": "Avg. nucleosome occupancy"}},
     "color": {"field": "s", "type": "nominal", "scale": {"domain": ["wt call", "wt no call", "hrp3Δ call", "hrp3Δ no call"], "range": ["#1e1e1e", "#6e6e6e", "#3d5ca8", "#3dbfc1"]},
       "legend": {"title": null, "orient": "none", "legendX": 169, "legendY": 158, "rowPadding": 12,
         "encode": {"labels": {"update": {"fontStyle": {"signal": "datum.value == 'wt call' || datum.value == 'wt no call' ? 'normal' : 'italic'"}}}}}}
   }
  }]
 },
 {"title": {"text": "B", "anchor": "start", "frame": "bounds", "fontSize": 26, "fontWeight": "bold", "baseline": "alphabetic", "offset": -45},
  "resolve": {"scale": {"color": "independent"}, "legend": {"color": "independent"}},
  "vconcat": [{
   "width": 321, "height": 311,
   "title": {"text": "Hrp3 binding", "anchor": "middle", "frame": "group", "offset": 17},
   "data": {"name": "nuc"},
   "transform": [{"filter": {"field": "g", "oneOf": ["AB", "B"]}}],
   "mark": {"type": "line", "strokeWidth": 3.6, "interpolate": "monotone", "strokeCap": "round", "strokeJoin": "round"},
   "encoding": {
     "x": {"field": "x", "type": "quantitative", "scale": {"domain": [-1080, 1080], "nice": false, "zero": false}, "axis": {"values": [-1000, -500, 0, 500, 1000], "format": "d", "title": "Position relative to TSS/bp"}},
     "y": {"field": "y", "type": "quantitative", "scale": {"domain": [-1.425, 0.313], "nice": false, "zero": false}, "axis": {"values": [-1, -0.5, 0], "format": ".1f", "title": "Avg. nucleosome occupancy"}},
     "color": {"field": "s", "type": "nominal", "scale": {"domain": ["wt call", "wt no call", "hrp1Δ hrp3Δ call", "hrp1Δ hrp3Δ no call"], "range": ["#1e1e1e", "#6e6e6e", "#7e80c3", "#5447a0"]},
       "legend": {"title": null, "orient": "none", "legendX": 173, "legendY": 132, "rowPadding": 9,
         "labelExpr": "datum.label == 'hrp1Δ hrp3Δ call' ? ['hrp1Δ hrp3Δ', 'call'] : datum.label == 'hrp1Δ hrp3Δ no call' ? ['hrp1Δ hrp3Δ', 'no call'] : datum.label",
         "encode": {"labels": {"update": {"fontStyle": {"signal": "datum.value == 'wt call' || datum.value == 'wt no call' ? 'normal' : 'italic'"}}}}}}
   }
  }]
 },
 {"title": {"text": "C", "anchor": "start", "frame": "bounds", "fontSize": 26, "fontWeight": "bold", "baseline": "alphabetic", "offset": -49},
  "resolve": {"scale": {"color": "independent"}, "legend": {"color": "independent"}},
  "vconcat": [{
   "width": 321, "height": 311,
   "title": {"text": "No transcriptional changes in", "subtitle": "hrp1Δ hrp3Δ", "subtitleFontStyle": "italic", "subtitlePadding": 3, "anchor": "middle", "frame": "group", "offset": 7},
   "data": {"name": "nuc"},
   "transform": [{"filter": {"field": "g", "equal": "C"}}],
   "mark": {"type": "line", "strokeWidth": 3.6, "interpolate": "monotone", "strokeCap": "round", "strokeJoin": "round"},
   "encoding": {
     "x": {"field": "x", "type": "quantitative", "scale": {"domain": [-1080, 1080], "nice": false, "zero": false}, "axis": {"values": [-1000, -500, 0, 500, 1000], "format": "d", "title": "Position relative to TSS/bp"}},
     "y": {"field": "y", "type": "quantitative", "scale": {"domain": [-0.978, 0.298], "nice": false, "zero": false}, "axis": {"values": [-0.8, -0.6, -0.4, -0.2, 0, 0.2], "format": ".1f", "title": "Avg. nucleosome occupancy"}},
     "color": {"field": "s", "type": "nominal", "scale": {"domain": ["wt call", "hrp1Δ hrp3Δ call"], "range": ["#1e1e1e", "#7e80c3"]},
       "legend": {"title": null, "orient": "none", "legendX": 177, "legendY": 183, "rowPadding": 12,
         "labelExpr": "datum.label == 'hrp1Δ hrp3Δ call' ? ['hrp1Δ hrp3Δ', 'call'] : datum.label",
         "encode": {"labels": {"update": {"fontStyle": {"signal": "datum.value == 'wt call' ? 'normal' : 'italic'"}}}}}}
   }
  }]
 },
 {"title": {"text": "D", "anchor": "start", "frame": "bounds", "fontSize": 26, "fontWeight": "bold", "baseline": "alphabetic", "offset": -49},
  "resolve": {"scale": {"color": "independent"}, "legend": {"color": "independent"}},
  "vconcat": [{
   "width": 321, "height": 311,
   "title": {"text": "Cryptic antisense up in hrp1Δ hrp3Δ", "subtitle": " ", "subtitlePadding": 3, "anchor": "middle", "frame": "group", "offset": 7},
   "data": {"name": "nuc"},
   "transform": [{"filter": {"field": "g", "equal": "D"}}],
   "mark": {"type": "line", "strokeWidth": 3.6, "interpolate": "monotone", "strokeCap": "round", "strokeJoin": "round"},
   "encoding": {
     "x": {"field": "x", "type": "quantitative", "scale": {"domain": [-1080, 1080], "nice": false, "zero": false}, "axis": {"values": [-1000, -500, 0, 500, 1000], "format": "d", "title": "Position relative to TSS/bp"}},
     "y": {"field": "y", "type": "quantitative", "scale": {"domain": [-0.978, 0.3], "nice": false, "zero": false}, "axis": {"values": [-0.8, -0.6, -0.4, -0.2, 0, 0.2], "format": ".1f", "title": "Avg. nucleosome occupancy"}},
     "color": {"field": "s", "type": "nominal", "scale": {"domain": ["wt call", "hrp1Δ hrp3Δ call"], "range": ["#1e1e1e", "#7e80c3"]},
       "legend": {"title": null, "orient": "none", "legendX": 175, "legendY": 201, "rowPadding": 13,
         "labelExpr": "datum.label == 'hrp1Δ hrp3Δ call' ? ['hrp1Δ hrp3Δ', 'call'] : datum.label",
         "encode": {"labels": {"update": {"fontStyle": {"signal": "datum.value == 'wt call' ? 'normal' : 'italic'"}}}}}}
   }
  }]
 }
]
}
